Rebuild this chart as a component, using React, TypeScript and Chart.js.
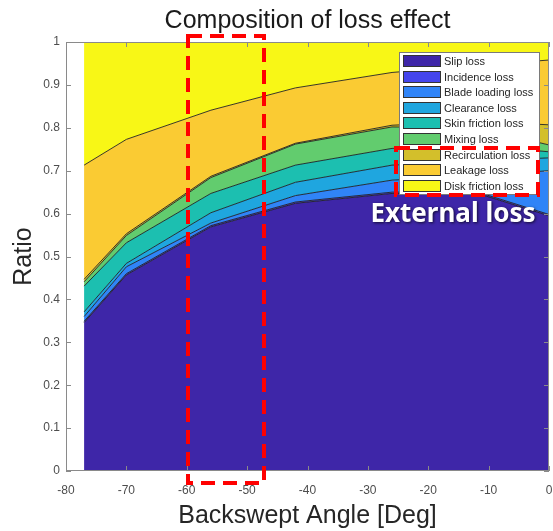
import React, { useEffect, useRef } from "react";
import { Chart, registerables } from "chart.js";

Chart.register(...registerables);

// ---------------- data ----------------
const angles = [-77, -70, -56, -42, -26, -12, 0];

const slipLoss = [0.346, 0.457, 0.569, 0.624, 0.647, 0.648, 0.595];
const incidenceLoss = [0.003, 0.003, 0.003, 0.003, 0.003, 0.003, 0.003];
const bladeLoadingLoss = [0.011, 0.016, 0.006, 0.015, 0.028, 0.037, 0.102];
const clearanceLoss = [0.011, 0.008, 0.024, 0.031, 0.035, 0.034, 0.03];
const skinFrictionLoss = [0.06, 0.048, 0.045, 0.04, 0.039, 0.038, 0.014];
const mixingLoss = [0.01, 0.017, 0.037, 0.049, 0.05, 0.04, 0.016];
const recirculationLoss = [0.006, 0.004, 0.003, 0.002, 0.004, 0.015, 0.047];
const leakageLoss = [0.266, 0.22, 0.154, 0.129, 0.123, 0.13, 0.151];
const diskFrictionLoss = [0.287, 0.227, 0.159, 0.107, 0.071, 0.055, 0.042];

const seriesNames = [
  "Slip loss",
  "Incidence loss",
  "Blade loading loss",
  "Clearance loss",
  "Skin friction loss",
  "Mixing loss",
  "Recirculation loss",
  "Leakage loss",
  "Disk friction loss",
];
const seriesValues = [
  slipLoss,
  incidenceLoss,
  bladeLoadingLoss,
  clearanceLoss,
  skinFrictionLoss,
  mixingLoss,
  recirculationLoss,
  leakageLoss,
  diskFrictionLoss,
];
const seriesColors = [
  "#3E26A8",
  "#4545EC",
  "#3084F7",
  "#1FA6DF",
  "#1CBFB0",
  "#62CC6E",
  "#D3BF2B",
  "#FACB33",
  "#F8F716",
];

const xTickValues = [-80, -70, -60, -50, -40, -30, -20, -10, 0];
const yTickValues = [0, 0.1, 0.2, 0.3, 0.4, 0.5, 0.6, 0.7, 0.8, 0.9, 1];

const chartTitle = "Composition of loss effect";
const xTitle = "Backswept Angle [Deg]";
const yTitle = "Ratio";
const calloutText = "External loss";

const FONT = "'Liberation Sans', Arial, Helvetica, sans-serif";

const decorPlugin = {
  id: "decor",
  afterDatasetsDraw(chart: any) {
    const { ctx, chartArea: a, scales } = chart;
    const xs = scales.x;
    const ys = scales.y;
    ctx.save();
    // axis box
    ctx.strokeStyle = "#8a8a8a";
    ctx.lineWidth = 1;
    ctx.strokeRect(Math.round(a.left) + 0.5, Math.round(a.top) + 0.5, Math.round(a.right - a.left) - 1, Math.round(a.bottom - a.top) - 1);
    // inward ticks
    const tl = 5;
    ctx.beginPath();
    xTickValues.forEach((v) => {
      const px = Math.round(xs.getPixelForValue(v)) + 0.5;
      ctx.moveTo(px, a.bottom);
      ctx.lineTo(px, a.bottom - tl);
      ctx.moveTo(px, a.top);
      ctx.lineTo(px, a.top + tl);
    });
    yTickValues.forEach((v) => {
      const py = Math.round(ys.getPixelForValue(v)) + 0.5;
      ctx.moveTo(a.left, py);
      ctx.lineTo(a.left + tl, py);
      ctx.moveTo(a.right, py);
      ctx.lineTo(a.right - tl, py);
    });
    ctx.stroke();

    // legend
    const lx = 399, ly = 52, lw = 140, lh = 142;
    ctx.fillStyle = "#ffffff";
    ctx.fillRect(lx, ly, lw, lh);
    ctx.strokeStyle = "#7a7a7a";
    ctx.strokeRect(lx + 0.5, ly + 0.5, lw, lh);
    ctx.font = `11px ${FONT}`;
    ctx.textBaseline = "middle";
    ctx.textAlign = "left";
    chart.data.datasets.forEach((ds: any, i: number) => {
      const sy = 55 + i * 15.6;
      ctx.fillStyle = ds.backgroundColor;
      ctx.fillRect(403, Math.round(sy), 38, 12);
      ctx.strokeStyle = "#333333";
      ctx.strokeRect(403.5, Math.round(sy) + 0.5, 37, 11);
      ctx.fillStyle = "#262626";
      ctx.fillText(ds.label, 444, Math.round(sy) + 6.5);
    });
    ctx.restore();
  },
  afterDraw(chart: any) {
    const { ctx, chartArea: a } = chart;
    ctx.save();
    // title
    ctx.fillStyle = "#1a1a1a";
    ctx.font = `25px ${FONT}`;
    ctx.textAlign = "center";
    ctx.textBaseline = "alphabetic";
    ctx.fillText(chartTitle, (a.left + a.right) / 2, 28);

    // red dashed callouts
    ctx.strokeStyle = "#ff0000";
    ctx.lineWidth = 4;
    ctx.setLineDash([14, 8]);
    ctx.strokeRect(188, 36, 76, 447);
    ctx.strokeRect(396, 148, 142, 47);
    ctx.setLineDash([]);

    // callout text
    ctx.font = `bold 26px 'Noto Sans', 'Open Sans', sans-serif`;
    ctx.textAlign = "center";
    ctx.textBaseline = "alphabetic";
    ctx.shadowColor = "rgba(0,0,0,0.7)";
    ctx.shadowBlur = 3;
    ctx.shadowOffsetX = 1;
    ctx.shadowOffsetY = 1;
    ctx.fillStyle = "#ffffff";
    ctx.fillText(calloutText, 453, 222);
    ctx.restore();
  },
};

export default function App() {
  const ref = useRef<HTMLCanvasElement | null>(null);

  useEffect(() => {
    if (!ref.current) return;
    const datasets = seriesNames.map((name, i) => ({
      label: name,
      data: angles.map((x, j) => ({ x, y: seriesValues[i][j] })),
      backgroundColor: seriesColors[i],
      borderColor: "rgba(25,25,25,0.85)",
      borderWidth: 1,
      pointRadius: 0,
      tension: 0,
      fill: i === 0 ? "origin" : "-1",
    }));

    const chart = new Chart(ref.current, {
      type: "line",
      data: { datasets },
      options: {
        responsive: false,
        animation: false,
        devicePixelRatio: 1,
        layout: { padding: { top: 42, right: 4, left: 0, bottom: 0 } },
        plugins: {
          legend: { display: false },
          tooltip: { enabled: false },
          title: { display: false },
        },
        scales: {
          x: {
            type: "linear",
            min: -80,
            max: 0,
            afterBuildTicks: (s: any) => {
              s.ticks = xTickValues.map((v) => ({ value: v }));
            },
            ticks: {
              color: "#4d4d4d",
              font: { family: FONT, size: 12 },
              padding: 12,
              maxRotation: 0,
              autoSkip: false,
              callback: (v: any) => String(v),
            },
            grid: { display: false, drawTicks: false },
            border: { display: false },
            title: {
              display: true,
              text: xTitle,
              color: "#262626",
              font: { family: FONT, size: 25 },
              padding: { top: 0, bottom: 0 },
            },
            afterFit: (s: any) => {
              s.height = 60;
              s.paddingRight = 0;
              s.paddingLeft = 0;
            },
          },
          y: {
            type: "linear",
            stacked: true,
            min: 0,
            max: 1,
            afterBuildTicks: (s: any) => {
              s.ticks = yTickValues.map((v) => ({ value: v }));
            },
            ticks: {
              color: "#4d4d4d",
              font: { family: FONT, size: 12 },
              padding: 6,
              autoSkip: false,
              callback: (v: any) => String(Math.round(Number(v) * 10) / 10),
            },
            grid: { display: false, drawTicks: false },
            border: { display: false },
            title: {
              display: true,
              text: yTitle,
              color: "#262626",
              font: { family: FONT, size: 25 },
              padding: { top: 9, bottom: 0 },
            },
            afterFit: (s: any) => {
              s.width = 66;
            },
          },
        },
      },
      plugins: [decorPlugin],
    });
    return () => chart.destroy();
  }, []);

  return (
    <div style={{ position: "absolute", left: 0, top: 0, width: 553, height: 531, background: "#fff" }}>
      <canvas ref={ref} width={553} height={531} style={{ display: "block", width: 553, height: 531 }} />
    </div>
  );
}
